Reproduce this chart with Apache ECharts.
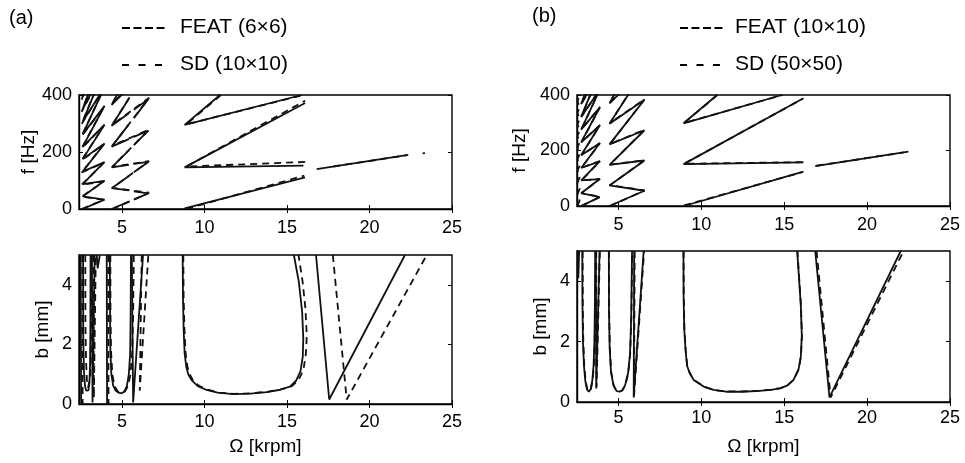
<!DOCTYPE html>
<html>
<head>
<meta charset="utf-8">
<script src="https://cdn.jsdelivr.net/npm/echarts@6/dist/echarts.min.js"></script>
<style>
  html, body { margin: 0; padding: 0; background: #fff; }
  #chart { width: 965px; height: 463px; }
</style>
</head>
<body>
<div id="chart"></div>
<script>
// tick values
const omegaTicks = [5, 10, 15, 20, 25];
const freqTicks = [0, 200, 400];
const depthTicks = [0, 2, 4];

// (a) chatter frequency f [Hz] vs Omega [krpm]
const featFreqA = [
    [[2.62, 0], [3.95, 33], [2.62, 44], [3.95, 99], [2.62, 87], [3.95, 165], [2.62, 131], [3.95, 230], [2.62, 175], [3.95, 296], [2.62, 218], [3.95, 362], [2.62, 262], [3.95, 428], [2.62, 306], [3.95, 494], [2.62, 350], [3.95, 560], [2.62, 393], [3.95, 625]],
    [[4.38, 0], [5.42, 26]],
    [[5.42, 65], [4.38, 73], [5.42, 116]],
    [[5.42, 155], [4.38, 146], [5.42, 206]],
    [[5.42, 245], [4.38, 219], [5.42, 297]],
    [[5.42, 336], [4.38, 292], [5.42, 387]],
    [[5.42, 426], [4.38, 365], [5.42, 477]],
    [[5.72, 33], [6.6, 55], [5.72, 62]],
    [[5.72, 129], [6.6, 165], [5.72, 158]],
    [[5.72, 224], [6.6, 275], [5.72, 253]],
    [[5.72, 319], [6.6, 385], [5.72, 348]],
    [[8.8, 2], [16.1, 111]],
    [[16.0, 152], [8.8, 146], [16.1, 372]],
    [[10.94, 400], [8.8, 295], [15.9, 400]],
    [[16.8, 140], [22.35, 190]]
];
const sdFreqA = [
    [[2.56, 0], [3.9, 32], [2.56, 43], [3.9, 97], [2.56, 85], [3.9, 162], [2.56, 128], [3.9, 227], [2.56, 171], [3.9, 292], [2.56, 213], [3.9, 357], [2.56, 256], [3.9, 422], [2.56, 299], [3.9, 487], [2.56, 341], [3.9, 552], [2.56, 384], [3.9, 617]],
    [[4.42, 0], [6.65, 57], [4.42, 74], [6.65, 168], [4.42, 148], [6.65, 279], [4.42, 222], [6.65, 390], [4.42, 296], [6.65, 501], [4.42, 370], [6.65, 612]],
    [[8.9, 0], [16.05, 117]],
    [[16.1, 165], [8.9, 149], [16.1, 380]],
    [[11.0, 400], [8.9, 297], [16.0, 400]],
    [[17.8, 149], [22.3, 189]],
    [[23.22, 195], [23.36, 196]]
];

// (a) limit depth of cut b [mm] vs Omega [krpm]
const featDepthA = [
    [[2.5, 5], [2.53, 0]],
    [[2.65, 5], [2.66, 2.2], [2.7, 1.1], [2.76, 0.62], [2.83, 0.45], [2.9, 0.41], [2.97, 0.46], [3.03, 0.7], [3.07, 1.3], [3.09, 2.5], [3.1, 5]],
    [[3.18, 5], [3.22, 0.05], [3.35, 5]],
    [[3.48, 5], [3.53, 4.55], [3.6, 4.6], [3.66, 5]],
    [[4.08, 5], [4.1, 0]],
    [[4.27, 5], [4.28, 3.2], [4.3, 1.8], [4.36, 1.0], [4.47, 0.62], [4.62, 0.45], [4.8, 0.38], [4.98, 0.36], [5.15, 0.42], [5.3, 0.6], [5.42, 1.0], [5.5, 1.7], [5.53, 3], [5.55, 5]],
    [[5.6, 5], [5.68, 0.05], [6.28, 5]],
    [[8.68, 5], [8.7, 3.6], [8.74, 2.5], [8.8, 1.7], [8.9, 1.25], [9.02, 1.0], [9.22, 0.8], [9.6, 0.6], [10.13, 0.47], [10.8, 0.38], [11.75, 0.33], [12.8, 0.35], [13.77, 0.4], [14.5, 0.47], [15.18, 0.58], [15.55, 0.78], [15.82, 1.1], [15.96, 1.6], [15.99, 2.2], [15.92, 3.1], [15.72, 4.1], [15.42, 5]],
    [[16.76, 5], [17.56, 0.15], [22.15, 5]]
];
const sdDepthA = [
    [[2.6, 5], [2.62, 0]],
    [[2.78, 5], [2.79, 2.6], [2.83, 1.4], [2.88, 0.8], [2.95, 0.55], [3.02, 0.6], [3.08, 0.9], [3.12, 1.6], [3.14, 3], [3.15, 5]],
    [[3.26, 5], [3.3, 0.2], [3.42, 5]],
    [[4.17, 5], [4.19, 0]],
    [[4.3, 5], [4.31, 3], [4.34, 1.8], [4.42, 1.0], [4.55, 0.6], [4.75, 0.42], [5.0, 0.37], [5.2, 0.43], [5.38, 0.62], [5.52, 1.0], [5.62, 1.7], [5.68, 3], [5.72, 5]],
    [[6.2, 5], [6.08, 0.45], [6.6, 5]],
    [[8.72, 5], [8.74, 3.6], [8.79, 2.5], [8.86, 1.7], [8.97, 1.25], [9.1, 1.0], [9.3, 0.8], [9.7, 0.6], [10.2, 0.48], [10.9, 0.38], [11.8, 0.34], [12.8, 0.36], [13.8, 0.41], [14.6, 0.48], [15.3, 0.6], [15.7, 0.8], [16.0, 1.15], [16.15, 1.7], [16.2, 2.3], [16.12, 3.2], [15.95, 4.1], [15.7, 5]],
    [[17.78, 5], [18.62, 0.15], [23.47, 5]]
];

// (b) chatter frequency
const featFreqB = [
    [[2.75, 0], [3.87, 32], [2.75, 46], [3.87, 97], [2.75, 92], [3.87, 161], [2.75, 137], [3.87, 226], [2.75, 183], [3.87, 290], [2.75, 229], [3.87, 355], [2.75, 275], [3.87, 419], [2.75, 321], [3.87, 484], [2.75, 367], [3.87, 548], [2.75, 412]],
    [[4.46, 0], [6.57, 55], [4.46, 74], [6.57, 164], [4.46, 148], [6.57, 273], [4.46, 222], [6.57, 383], [4.46, 296], [6.57, 492], [4.46, 370], [6.57, 602]],
    [[8.95, 0], [16.16, 124]],
    [[16.16, 157], [8.93, 151], [16.16, 388]],
    [[10.95, 400], [8.93, 298], [14.86, 400]],
    [[16.87, 144], [22.49, 196]]
];
const sdFreqB = [
    [[2.53, 0], [2.66, 20], [2.53, 42], [2.66, 62], [2.53, 84], [2.66, 104], [2.53, 126], [2.66, 146], [2.53, 168], [2.66, 188], [2.53, 210], [2.66, 230], [2.53, 252], [2.66, 272], [2.53, 294], [2.66, 314], [2.53, 336], [2.66, 356], [2.53, 378], [2.66, 398]],
    [[2.77, 0], [3.89, 33], [2.77, 46], [3.89, 98], [2.77, 92], [3.89, 162], [2.77, 138], [3.89, 227], [2.77, 184], [3.89, 292], [2.77, 230], [3.89, 357], [2.77, 276], [3.89, 422], [2.77, 322], [3.89, 487], [2.77, 368], [3.89, 552], [2.77, 414]],
    [[4.48, 0], [6.58, 56], [4.48, 75], [6.58, 165], [4.48, 149], [6.58, 275], [4.48, 223], [6.58, 385], [4.48, 298], [6.58, 495], [4.48, 372], [6.58, 605]],
    [[8.95, 2], [16.1, 122]],
    [[16.1, 158], [8.95, 152], [16.1, 386]],
    [[10.97, 400], [8.95, 299], [14.9, 400]],
    [[16.95, 145], [22.2, 193]]
];

// (b) limit depth of cut
const featDepthB = [
    [[2.55, 5], [2.58, 4.1], [2.63, 5]],
    [[2.82, 5], [2.83, 3.2], [2.86, 2.0], [2.92, 1.2], [3.0, 0.7], [3.1, 0.42], [3.21, 0.34], [3.32, 0.42], [3.42, 0.7], [3.5, 1.2], [3.55, 2.0], [3.58, 3.2], [3.6, 5]],
    [[3.64, 5], [3.66, 0.45], [3.86, 5]],
    [[4.42, 5], [4.43, 3], [4.47, 1.8], [4.55, 1.0], [4.7, 0.55], [4.88, 0.37], [5.05, 0.34], [5.22, 0.38], [5.4, 0.55], [5.58, 0.95], [5.7, 1.6], [5.77, 2.8], [5.82, 5]],
    [[5.95, 5], [5.92, 0.15], [6.52, 5]],
    [[8.92, 5], [8.93, 3.5], [8.97, 2.4], [9.05, 1.7], [9.14, 1.2], [9.3, 0.95], [9.54, 0.73], [10.14, 0.51], [10.74, 0.4], [11.5, 0.34], [12.5, 0.34], [13.5, 0.37], [14.2, 0.4], [14.76, 0.45], [15.2, 0.55], [15.56, 0.73], [15.86, 1.07], [16.0, 1.5], [16.06, 2.2], [16.0, 3.2], [15.88, 4.2], [15.78, 5]],
    [[16.87, 5], [17.73, 0.15], [22.03, 5]]
];
const sdDepthB = [
    [[2.84, 5], [2.85, 3.2], [2.88, 2.0], [2.94, 1.2], [3.02, 0.7], [3.12, 0.42], [3.23, 0.35], [3.34, 0.43], [3.44, 0.72], [3.52, 1.2], [3.57, 2.0], [3.6, 3.2], [3.62, 5]],
    [[3.66, 5], [3.68, 0.5], [3.88, 5]],
    [[4.43, 5], [4.44, 3], [4.48, 1.8], [4.56, 1.0], [4.71, 0.55], [4.89, 0.37], [5.06, 0.34], [5.23, 0.38], [5.41, 0.55], [5.59, 0.95], [5.71, 1.6], [5.78, 2.8], [5.83, 5]],
    [[5.98, 5], [5.94, 0.2], [6.55, 5]],
    [[8.93, 5], [8.94, 3.5], [8.98, 2.4], [9.06, 1.7], [9.15, 1.2], [9.31, 0.95], [9.55, 0.73], [10.15, 0.51], [10.75, 0.4], [11.5, 0.35], [12.5, 0.35], [13.5, 0.38], [14.2, 0.41], [14.77, 0.46], [15.21, 0.56], [15.57, 0.74], [15.87, 1.08], [16.01, 1.5], [16.07, 2.2], [16.01, 3.2], [15.89, 4.2], [15.8, 5]],
    [[16.95, 5], [17.8, 0.15], [22.2, 5]]
];

const FONT = '"Liberation Sans", Arial, sans-serif';
const INK = '#111';

let dom = document.getElementById('chart');
let myChart = echarts.init(dom, null, { renderer: 'canvas' });

const grids = [
    { left: 79, top: 95, width: 373, height: 114 },
    { left: 79, top: 255, width: 373, height: 149 },
    { left: 577, top: 95, width: 373, height: 111 },
    { left: 577, top: 251, width: 373, height: 151 }
].map(function (g) {
    return Object.assign({ show: true, borderColor: '#000', borderWidth: 1.4, containLabel: false }, g);
});

function xMain(grid, min, name, margin, gap) {
    return {
        type: 'value', gridIndex: grid, min: min, max: 25,
        axisLine: { onZero: false, lineStyle: { color: '#000', width: 1.4 } },
        axisTick: { inside: true, length: 4, customValues: omegaTicks, lineStyle: { color: '#000' } },
        axisLabel: { customValues: omegaTicks, color: '#000', fontSize: 18, fontFamily: FONT, margin: margin },
        splitLine: { show: false },
        name: name, nameLocation: 'middle', nameGap: gap,
        nameTextStyle: { color: '#000', fontSize: 19, fontFamily: FONT }
    };
}
function xMirror(grid, min) {
    return {
        type: 'value', gridIndex: grid, min: min, max: 25, position: 'top',
        axisLine: { show: false },
        axisTick: { inside: true, length: 4, customValues: omegaTicks, lineStyle: { color: '#000' } },
        axisLabel: { show: false }, splitLine: { show: false }
    };
}
function yMain(grid, max, ticks, name, gap) {
    return {
        type: 'value', gridIndex: grid, min: 0, max: max,
        axisLine: { show: true, onZero: false, lineStyle: { color: '#000', width: 1.4 } },
        axisTick: { show: true, inside: true, length: 4, customValues: ticks, lineStyle: { color: '#000' } },
        axisLabel: { customValues: ticks, color: '#000', fontSize: 18, fontFamily: FONT, margin: 7 },
        splitLine: { show: false },
        name: name, nameLocation: 'middle', nameGap: gap,
        nameTextStyle: { color: '#000', fontSize: 19, fontFamily: FONT }
    };
}
function yMirror(grid, max, ticks) {
    return {
        type: 'value', gridIndex: grid, min: 0, max: max, position: 'right',
        axisLine: { show: false },
        axisTick: { show: true, inside: true, length: 4, customValues: ticks, lineStyle: { color: '#000' } },
        axisLabel: { show: false }, splitLine: { show: false }
    };
}

const xAxes = [
    xMain(0, 2.4, '', 10, 30),
    xMain(1, 2.4, 'Ω [krpm]', 9, 33),
    xMain(2, 2.5, '', 10, 30),
    xMain(3, 2.5, 'Ω [krpm]', 7, 35),
    xMirror(0, 2.4), xMirror(1, 2.4), xMirror(2, 2.5), xMirror(3, 2.5)
];
const yAxes = [
    yMain(0, 400, freqTicks, 'f [Hz]', 38),
    yMain(1, 5, depthTicks, 'b [mm]', 27),
    yMain(2, 400, freqTicks, 'f [Hz]', 48),
    yMain(3, 5, depthTicks, 'b [mm]', 27),
    yMirror(0, 400, freqTicks), yMirror(1, 5, depthTicks), yMirror(2, 400, freqTicks), yMirror(3, 5, depthTicks)
];

let series = [];
function addLines(list, idx, dashed) {
    list.forEach(function (pts) {
        series.push({
            type: 'line', xAxisIndex: idx, yAxisIndex: idx, data: pts,
            symbol: 'none', showSymbol: false, silent: true, clip: true,
            lineStyle: { color: INK, width: 1.8, type: dashed ? [7, 5] : 'solid' }
        });
    });
}
addLines(featFreqA, 0, false);
addLines(sdFreqA, 0, true);
addLines(featDepthA, 1, false);
addLines(sdDepthA, 1, true);
addLines(featFreqB, 2, false);
addLines(sdFreqB, 2, true);
addLines(featDepthB, 3, false);
addLines(sdDepthB, 3, true);

function txt(x, y, s, size) {
    return { type: 'text', left: x, top: y, style: { text: s, fill: '#000', font: size + 'px ' + FONT } };
}
function sample(x, y, dash) {
    return { type: 'line', shape: { x1: x, y1: y, x2: x + 45, y2: y }, style: { stroke: '#000', lineWidth: 2, lineDash: dash } };
}

let option = {
    animation: false,
    backgroundColor: '#fff',
    grid: grids,
    xAxis: xAxes,
    yAxis: yAxes,
    series: series,
    graphic: [
        txt(9, 8, '(a)', 20),
        txt(532, 6, '(b)', 20),
        sample(122, 28, [8, 3.5]), txt(180, 17, 'FEAT (6×6)', 21),
        sample(122, 65, [7, 9.5]), txt(180, 54, 'SD (10×10)', 21),
        sample(680, 28, [8, 3.5]), txt(735, 17, 'FEAT (10×10)', 21),
        sample(680, 65, [7, 9.5]), txt(735, 54, 'SD (50×50)', 21)
    ]
};

if (option && typeof option === 'object') {
    myChart.setOption(option);
}

window.addEventListener('resize', myChart.resize);
</script>
</body>
</html>
